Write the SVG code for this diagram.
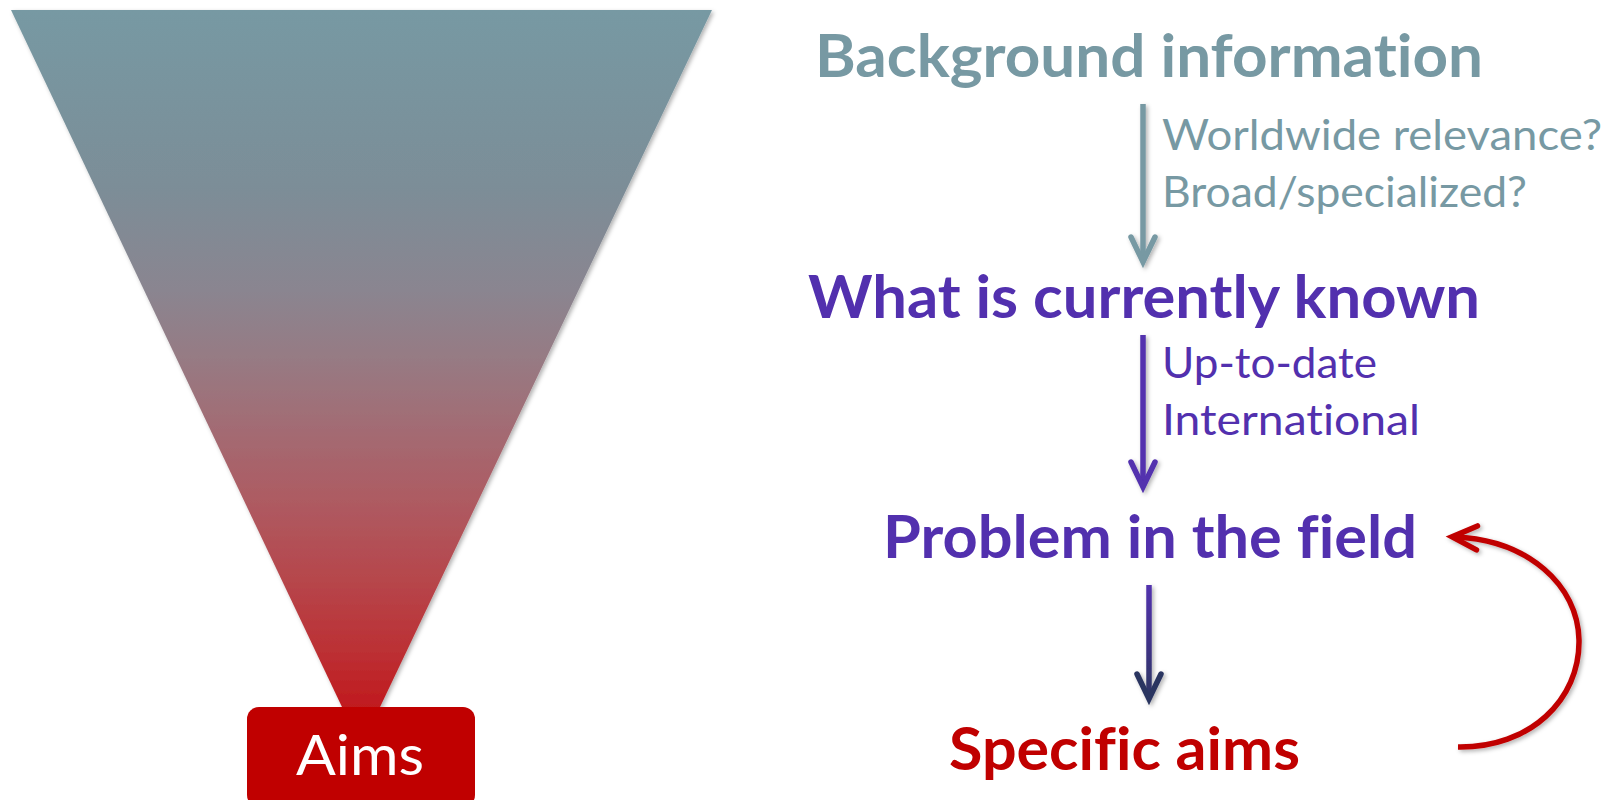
<svg xmlns="http://www.w3.org/2000/svg" width="1619" height="800" viewBox="0 0 1619 800">
<style>
  text { font-family: Lato, "Open Sans", "Liberation Sans", sans-serif; font-variant-ligatures: none; font-feature-settings: "liga" 0; }
  .head { font-weight: 700; font-size: 59px; }
  .note { font-weight: 400; font-size: 43px; }
  .grey { fill: #7799A3; }
  .purple { fill: #5230AE; }
  .red { fill: #C00000; }
  .conn { fill: none; stroke-width: 5.5; }
</style>
<defs>
  <linearGradient id="funnel" gradientUnits="userSpaceOnUse" x1="0" y1="10" x2="0" y2="747">
    <stop offset="0" stop-color="#7799A3"/>
    <stop offset="0.23" stop-color="#7B8E98"/>
    <stop offset="0.38" stop-color="#8A8590"/>
    <stop offset="0.47" stop-color="#967B84"/>
    <stop offset="0.57" stop-color="#A36B73"/>
    <stop offset="0.67" stop-color="#AE5A61"/>
    <stop offset="0.77" stop-color="#B6474C"/>
    <stop offset="0.87" stop-color="#BC3034"/>
    <stop offset="0.94" stop-color="#C01C20"/>
    <stop offset="1" stop-color="#C01418"/>
  </linearGradient>
  <linearGradient id="arrow3" gradientUnits="userSpaceOnUse" x1="0" y1="585" x2="0" y2="699">
    <stop offset="0" stop-color="#5230AE"/>
    <stop offset="1" stop-color="#2C3561"/>
  </linearGradient>
  <filter id="shadow" x="-10%" y="-10%" width="120%" height="120%">
    <feDropShadow dx="2" dy="2" stdDeviation="2" flood-color="#000" flood-opacity="0.3"/>
  </filter>
  <marker id="mGrey" markerUnits="userSpaceOnUse" markerWidth="40" markerHeight="40" viewBox="-30 -20 40 40" refX="0" refY="0" orient="auto">
    <path d="M-22,-12 L3,0 L-22,12" fill="none" stroke="#7799A3" stroke-width="5.5" stroke-linecap="round" stroke-linejoin="miter"/>
  </marker>
  <marker id="mPurple" markerUnits="userSpaceOnUse" markerWidth="40" markerHeight="40" viewBox="-30 -20 40 40" refX="0" refY="0" orient="auto">
    <path d="M-22,-12 L3,0 L-22,12" fill="none" stroke="#5230AE" stroke-width="5.5" stroke-linecap="round" stroke-linejoin="miter"/>
  </marker>
  <marker id="mNavy" markerUnits="userSpaceOnUse" markerWidth="40" markerHeight="40" viewBox="-30 -20 40 40" refX="0" refY="0" orient="auto">
    <path d="M-22,-12 L3,0 L-22,12" fill="none" stroke="#2C3561" stroke-width="5.5" stroke-linecap="round" stroke-linejoin="miter"/>
  </marker>
  <marker id="mRed" markerUnits="userSpaceOnUse" markerWidth="40" markerHeight="40" viewBox="-30 -20 40 40" refX="0" refY="0" orient="auto">
    <path d="M-22,-12 L3,0 L-22,12" fill="none" stroke="#C00000" stroke-width="5.5" stroke-linecap="round" stroke-linejoin="miter"/>
  </marker>
</defs>

<rect width="1619" height="800" fill="#FFFFFF"/>

<g id="funnel-shape">
  <polygon points="11,10 712,10 361,747" fill="url(#funnel)" filter="url(#shadow)"/>
</g>

<g id="aims-box">
  <rect x="247" y="707" width="228" height="100" rx="12" ry="12" fill="#C00000"/>
  <text x="296" y="775" font-size="57" fill="#FFFFFF" textLength="128" lengthAdjust="spacingAndGlyphs">Aims</text>
</g>

<g id="background-information">
  <text class="head grey" x="815" y="77" textLength="668" lengthAdjust="spacingAndGlyphs">Background information</text>
</g>

<g id="background-notes">
  <text class="note grey" x="1162" y="150" textLength="440" lengthAdjust="spacingAndGlyphs">Worldwide relevance?</text>
  <text class="note grey" x="1162" y="207" textLength="365" lengthAdjust="spacingAndGlyphs">Broad/specialized?</text>
</g>

<g id="currently-known">
  <text class="head purple" x="808" y="318" textLength="672" lengthAdjust="spacingAndGlyphs">What is currently known</text>
</g>

<g id="known-notes">
  <text class="note purple" x="1162" y="378" textLength="215" lengthAdjust="spacingAndGlyphs">Up-to-date</text>
  <text class="note purple" x="1162" y="435" textLength="258" lengthAdjust="spacingAndGlyphs">International</text>
</g>

<g id="problem-in-field">
  <text class="head purple" x="883" y="558" textLength="534" lengthAdjust="spacingAndGlyphs">Problem in the field</text>
</g>

<g id="specific-aims">
  <text class="head red" x="949" y="770" textLength="351" lengthAdjust="spacingAndGlyphs">Specific aims</text>
</g>

<g id="connectors" filter="url(#shadow)">
  <path class="conn" d="M1143,104 L1143,259" stroke="#7799A3" marker-end="url(#mGrey)"/>
  <path class="conn" d="M1143,335 L1143,484" stroke="#5230AE" marker-end="url(#mPurple)"/>
  <path class="conn" d="M1149,585 L1149,696" stroke="url(#arrow3)" marker-end="url(#mNavy)"/>
  <path class="conn" d="M1458,747 C1530,748 1580,700 1579,640 C1578,585 1528,540 1455,537" stroke="#C00000" marker-end="url(#mRed)"/>
</g>
</svg>
